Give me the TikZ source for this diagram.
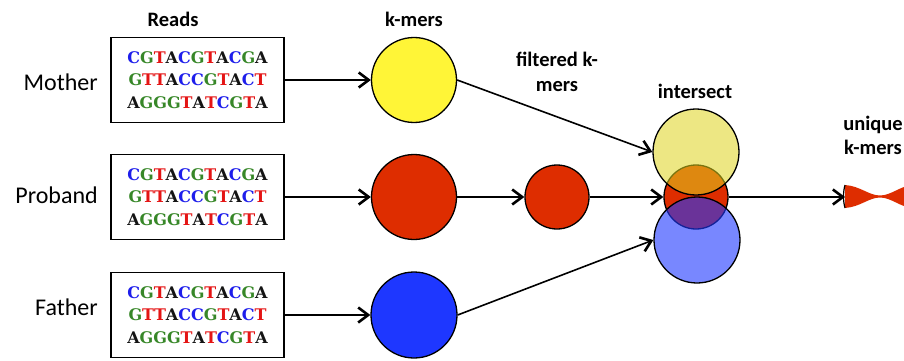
\documentclass[tikz,border=0pt]{standalone}
\usepackage{fontspec}
\setmainfont{Carlito}
\newfontfamily\seqfont{DejaVu Serif}
\usetikzlibrary{arrows.meta}
\definecolor{nucA}{RGB}{20,20,20}
\definecolor{nucC}{RGB}{30,30,235}
\definecolor{nucG}{RGB}{55,135,40}
\definecolor{nucT}{RGB}{228,20,20}
\definecolor{kyellow}{RGB}{255,245,55}
\definecolor{kred}{RGB}{222,45,0}
\definecolor{kblue}{RGB}{30,55,255}
\definecolor{iyellow}{RGB}{222,212,30}
\newcommand\nA{{\color{nucA}A}}
\newcommand\nC{{\color{nucC}C}}
\newcommand\nG{{\color{nucG}G}}
\newcommand\nT{{\color{nucT}T}}
\newcommand\readlines{\nC\nG\nT\nA\nC\nG\nT\nA\nC\nG\nA\\\nG\nT\nT\nA\nC\nC\nG\nT\nA\nC\nT\\\nA\nG\nG\nG\nT\nA\nT\nC\nG\nT\nA}
\begin{document}
\begin{tikzpicture}[x=1pt,y=-1pt,
  readbox/.style={draw,line width=1.5pt,minimum width=173pt,minimum height=85pt,inner sep=0pt,
     align=center,font=\seqfont\bfseries\fontsize{16}{22.5}\selectfont},
  rowlabel/.style={anchor=east,inner sep=0pt,font=\fontsize{24}{28}\selectfont},
  head/.style={inner sep=0pt,align=center,font=\bfseries\fontsize{20.5}{25}\selectfont},
  kcirc/.style={circle,draw,line width=1.3pt,inner sep=0pt},
  flow/.style={line width=1.6pt,-{Straight Barb[length=10pt,width=15pt,line width=2.6pt]}}]
\useasboundingbox (0,0) rectangle (904,361);
% row labels
\node[rowlabel] (lm) at (98,82) {Mother};
\node[rowlabel] (lp) at (98,195) {Proband};
\node[rowlabel] (lf) at (98,307) {Father};
% headings
\node[head] (hreads) at (173,19) {Reads};
\node[head] (hk) at (414,19) {k-mers};
\node[head] (hf) at (557,72) {filtered k-\\mers};
\node[head] (hi) at (695,91) {intersect};
\node[head,font=\bfseries\fontsize{20.5}{24}\selectfont] (hu) at (873,135) {unique\\k-mers};
% read boxes
\node[readbox] (mr) at (197.5,80) {\readlines};
\node[readbox] (pr) at (197.5,197) {\readlines};
\node[readbox] (fr) at (197.5,315) {\readlines};
% k-mer circles
\node[kcirc,fill=kyellow,minimum size=85pt] (mk) at (414,80) {};
\node[kcirc,fill=kred,minimum size=85pt] (pk) at (414,197) {};
\node[kcirc,fill=kblue,minimum size=86pt] (fk) at (414,315) {};
\node[kcirc,fill=kred,minimum size=64pt] (pf) at (557,197) {};
% intersect
\node[kcirc,fill=kred,minimum size=64pt] (ir) at (696,197) {};
\node[kcirc,fill=iyellow,fill opacity=0.55,minimum size=86pt] (iy) at (696,152) {};
\node[kcirc,fill=kblue,fill opacity=0.6,minimum size=86pt] (ib) at (697,240) {};
% unique k-mers shape
\coordinate (u) at (845,197);
\fill[kred] (845,185) .. controls (860,186) and (869,195.5) .. (880,195.5)
  .. controls (891,195.5) and (900,186) .. (915,184) -- (915,209)
  .. controls (900,207) and (891,197.5) .. (880,197.5)
  .. controls (869,197.5) and (860,207) .. (845,208) -- cycle;
\draw[line width=1.2pt] (845,185) .. controls (843,192) and (843,201) .. (845,208);
% connectors
\draw[flow] (mr.east) -- (mk.west);
\draw[flow] (pr.east) -- (pk.west);
\draw[flow] (fr.east) -- (fk.west);
\draw[flow] (pk.east) -- (pf.west);
\draw[flow] (pf.east) -- (ir.west);
\draw[flow] (mk.east) -- (iy.west);
\draw[flow] (fk.east) -- (ib.west);
\draw[flow] (ir.east) -- (u);
\end{tikzpicture}
\end{document}
